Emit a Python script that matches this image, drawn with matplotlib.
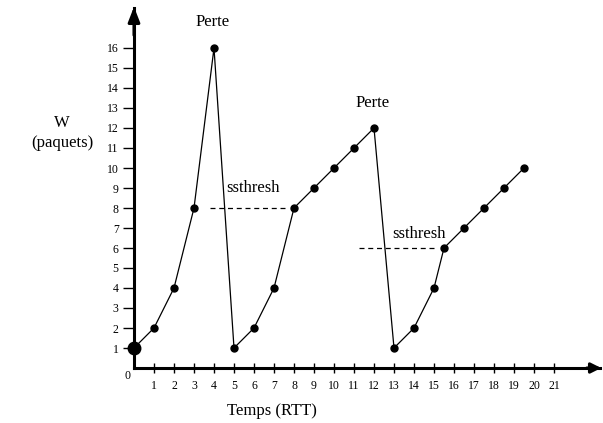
import matplotlib.pyplot as plt

plt.rcParams['font.family'] = ['Liberation Serif', 'DejaVu Serif']

# window size (packets) over time (RTT)
rtt = [0, 1, 2, 3, 4, 5, 6, 7, 8, 9, 10, 11, 12, 13, 14, 15, 15.5, 16.5, 17.5, 18.5, 19.5]
window = [1, 2, 4, 8, 16, 1, 2, 4, 8, 9, 10, 11, 12, 1, 2, 4, 6, 7, 8, 9, 10]

x_ticks = list(range(1, 22))
y_ticks = list(range(1, 17))

# threshold levels (x start, x end, level)
thresh_x1 = [3.8, 11.25]
thresh_x2 = [7.7, 15.15]
thresh_y = [8, 6]

fig = plt.figure(figsize=(6.03, 4.23), dpi=100)
ax = fig.add_axes([134 / 603, 55 / 423, 466 / 603, 360 / 423])
ax.set_xlim(0, 23.3)
ax.set_ylim(0, 18)

for s in ['top', 'right']:
    ax.spines[s].set_visible(False)
for s in ['left', 'bottom']:
    ax.spines[s].set_linewidth(2.2)

ax.annotate('', xy=(0, 18.2), xytext=(0, 16.5), xycoords='data',
            arrowprops=dict(arrowstyle='-|>,head_length=0.9,head_width=0.35', color='black', lw=2.2),
            annotation_clip=False)
ax.annotate('', xy=(23.5, 0), xytext=(22.5, 0), xycoords='data',
            arrowprops=dict(arrowstyle='-|>,head_length=0.6,head_width=0.3', color='black', lw=2.2),
            annotation_clip=False)

ax.set_xticks(x_ticks)
ax.set_xticklabels([str(t) for t in x_ticks], fontsize=8.5)
ax.set_yticks(y_ticks)
ax.set_yticklabels([str(t) for t in y_ticks], fontsize=8.5)
ax.tick_params(axis='x', direction='inout', length=7, width=1, pad=5)
ax.tick_params(axis='y', direction='out', length=8, width=1, pad=3)

ax.plot(rtt, window, color='black', lw=0.9, marker='o', markersize=5, clip_on=False)
ax.plot(rtt[0], window[0], 'o', color='black', markersize=9, clip_on=False)

for i in range(len(thresh_y)):
    ax.plot([thresh_x1[i], thresh_x2[i]], [thresh_y[i], thresh_y[i]], color='black',
            lw=0.9, linestyle=(0, (4, 3)))

ax.text(3.95, 17.3, 'Perte', ha='center', va='center', fontsize=12)
ax.text(11.95, 13.25, 'Perte', ha='center', va='center', fontsize=12)
ax.text(5.95, 9.0, 'ssthresh', ha='center', va='center', fontsize=12)
ax.text(14.25, 6.7, 'ssthresh', ha='center', va='center', fontsize=12)

fig.text(62 / 603, 1 - 123 / 423, 'W', ha='center', va='center', fontsize=12)
fig.text(62 / 603, 1 - 143 / 423, '(paquets)', ha='center', va='center', fontsize=12)
fig.text(272 / 603, 1 - 411 / 423, 'Temps (RTT)', ha='center', va='center', fontsize=12)
fig.text(127 / 603, 1 - 376 / 423, '0', ha='center', va='center', fontsize=8.5)

fig.savefig('out.png', dpi=100)
